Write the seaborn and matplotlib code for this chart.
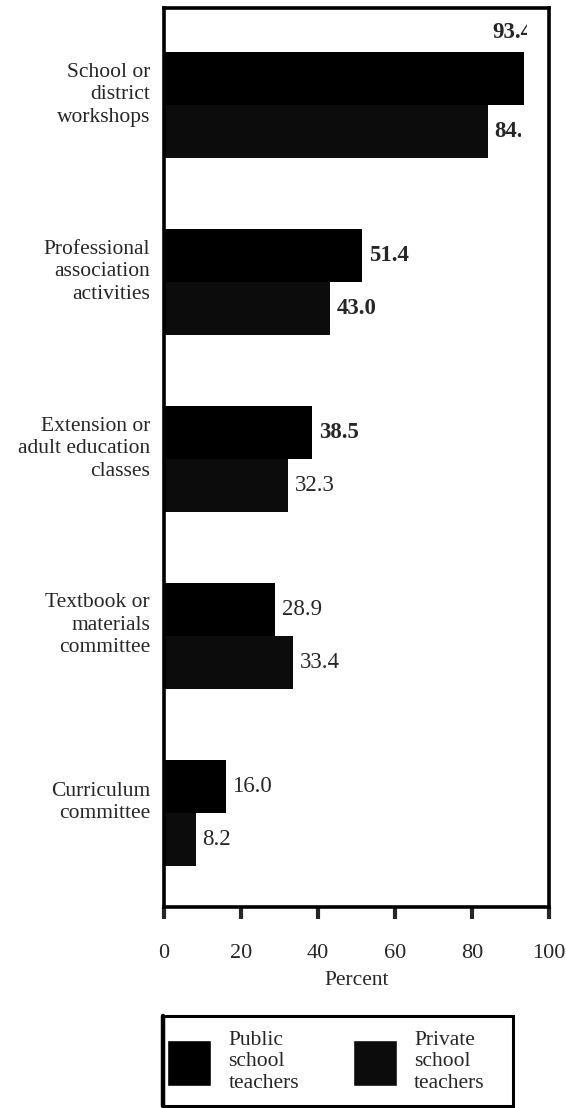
import pandas as pd
import matplotlib
matplotlib.use("Agg")
import matplotlib.pyplot as plt
import matplotlib.transforms as mtransforms
from matplotlib.patches import Patch, Rectangle
from matplotlib.lines import Line2D
import seaborn as sns

# Chart values
categories = ["School or\ndistrict\nworkshops",
              "Professional\nassociation\nactivities",
              "Extension or\nadult education\nclasses",
              "Textbook or\nmaterials\ncommittee",
              "Curriculum\ncommittee"]
public = [93.4, 51.4, 38.5, 28.9, 16.0]
private = [84.1, 43.0, 32.3, 33.4, 8.2]
groups = ["Public\nschool\nteachers", "Private\nschool\nteachers"]
x_ticks = [0, 20, 40, 60, 80, 100]

df = pd.DataFrame({
    "activity": categories * 2,
    "percent": public + private,
    "group": [groups[0]] * len(public) + [groups[1]] * len(private),
})

sns.set_style("white")
plt.rcParams["font.family"] = ["Liberation Serif", "DejaVu Serif"]

W, H = 566, 1108
fig = plt.figure(figsize=(W / 100, H / 100), dpi=100)
ax = fig.add_axes([164 / W, 1 - 907 / H, (549 - 164) / W, (907 - 8) / H])

colors = ["#000000", "#0c0c0c"]
sns.barplot(data=df, y="activity", x="percent", hue="group", orient="h",
            palette=colors, width=0.6, saturation=1,
            linewidth=0, ax=ax, legend=False)

ax.set_xlim(0, 100)
ax.set_ylim(4.53, -0.55)
ax.set_xticks(x_ticks)
ax.set_xticklabels([str(t) for t in x_ticks], fontsize=16)
ax.set_xlabel("Percent", fontsize=15.5, labelpad=6)
ax.set_ylabel("")
ax.tick_params(axis="x", direction="out", length=8.5, width=3, pad=18, bottom=True)
ax.tick_params(axis="y", length=0, pad=10, labelsize=15.5)
for spine in ax.spines.values():
    spine.set_visible(True)
    spine.set_color("black")
    spine.set_linewidth(2.6)

# category labels sit a little above the group centre
shift = mtransforms.ScaledTranslation(0, 15 / 100, fig.dpi_scale_trans)
for lab in ax.get_yticklabels():
    lab.set_transform(lab.get_transform() + shift)
    lab.set_linespacing(1.25)
    lab.set_horizontalalignment("right")
    lab.set_multialignment("right")

# value labels (the scan cuts the top row off on the right)
bold = {93.4, 84.1, 51.4, 43.0, 38.5}
clip_x = [527, 521]
for k, (cont, vals) in enumerate(zip(ax.containers, [public, private])):
    clip = mtransforms.TransformedBbox(
        mtransforms.Bbox.from_extents(0, 0, clip_x[k] / W, 1), fig.transFigure)
    for bar, v in zip(cont, vals):
        yc = bar.get_y() + bar.get_height() / 2
        w = "bold" if v in bold else "normal"
        if v > 90:
            t = ax.annotate(f"{v:.1f}", (v, bar.get_y()), xytext=(6, 14),
                            textcoords="offset points", ha="right", va="center",
                            fontsize=16.5, fontweight=w, annotation_clip=False)
        else:
            t = ax.annotate(f"{v:.1f}", (v, yc), xytext=(5, 0),
                            textcoords="offset points", ha="left", va="center",
                            fontsize=16.5, fontweight=w, annotation_clip=False)
        t.set_clip_on(True)
        t.set_clip_box(clip)

# legend
handles = [Patch(facecolor=c) for c in colors]
leg = fig.legend(handles, groups, loc="center left",
                 bbox_to_anchor=(167 / W, 1 - 1062 / H),
                 ncol=2, fontsize=15.5, frameon=False,
                 handlelength=2.05, handleheight=2.9, handletextpad=0.8,
                 columnspacing=2.5, borderpad=0, borderaxespad=0)
for t in leg.get_texts():
    t.set_linespacing(1.2)
fig.add_artist(Rectangle((163 / W, 1 - 1106 / H), (513 - 163) / W, (1106 - 1016) / H,
                         transform=fig.transFigure, fill=False,
                         edgecolor="black", linewidth=2.2))
fig.add_artist(Line2D([163 / W, 163 / W], [1 - 1106 / H, 1 - 1016 / H],
                      transform=fig.transFigure, color="black", linewidth=3.2))

fig.savefig("out.png", dpi=100)
